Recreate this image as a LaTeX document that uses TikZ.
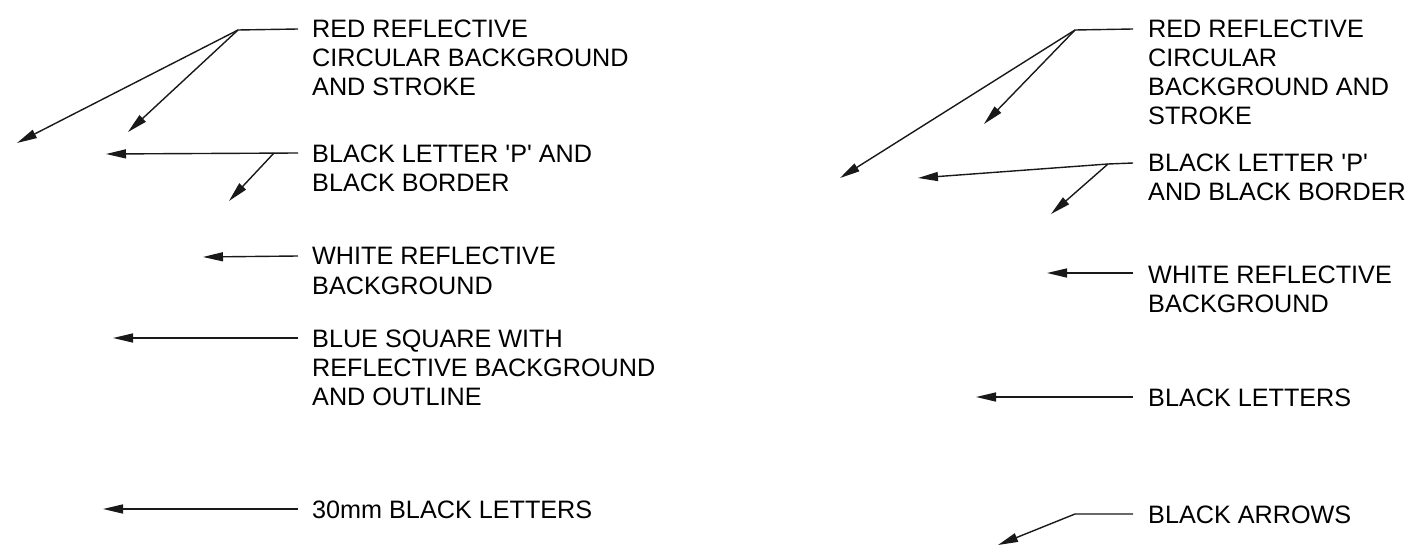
\documentclass[tikz,border=0pt]{standalone}
\usepackage{fontspec}
\newfontfamily\lsans{Liberation Sans}
\usetikzlibrary{arrows.meta}
\begin{document}
\begin{tikzpicture}[x=1pt,y=-1pt,
  lbl/.style={anchor=base west, inner sep=0pt, align=left, font=\lsans\fontsize{25.2pt}{29pt}\selectfont},
  lead/.style={line width=1.4pt, black!90},
  arr/.style={lead, -{Triangle[length=20pt,width=9pt]}}]
\useasboundingbox (0,0) rectangle (1419,556);

% ---------- left column (anchor = baseline of last line) ----------
\node[lbl] (L1) at (312,95.5) {RED REFLECTIVE\\CIRCULAR BACKGROUND\\AND STROKE};
\node[lbl] (L2) at (312,192) {BLACK LETTER 'P' AND\\BLACK BORDER};
\node[lbl] (L3) at (312,294) {WHITE REFLECTIVE\\BACKGROUND};
\node[lbl] (L4) at (312,405) {BLUE SQUARE WITH\\REFLECTIVE BACKGROUND\\AND OUTLINE};
\node[lbl] (L5) at (312,518) {30mm BLACK LETTERS};

\coordinate (a1) at (298,29);  \coordinate (k1) at (238,30);
\coordinate (t1a) at (17,143); \coordinate (t1b) at (128,132);
\coordinate (a2) at (298,153); \coordinate (k2) at (274,153);
\coordinate (t2a) at (106,154); \coordinate (t2b) at (229,201);
\coordinate (a3) at (298,256); \coordinate (t3) at (203,257);
\coordinate (a4) at (298,338); \coordinate (t4) at (113,338);
\coordinate (a5) at (298,509); \coordinate (t5) at (103,509);

\draw[lead] (a1) -- (k1);
\draw[arr] (k1) -- (t1a);
\draw[arr] (k1) -- (t1b);
\draw[arr] (a2) -- (t2a);
\draw[arr] (k2) -- (t2b);
\draw[arr] (a3) -- (t3);
\draw[arr] (a4) -- (t4);
\draw[arr] (a5) -- (t5);

% ---------- right column ----------
\node[lbl] (R1) at (1148,124.5) {RED REFLECTIVE\\CIRCULAR\\BACKGROUND AND\\STROKE};
\node[lbl] (R2) at (1148,201) {BLACK LETTER 'P'\\AND BLACK BORDER};
\node[lbl] (R3) at (1148,312) {WHITE REFLECTIVE\\BACKGROUND};
\node[lbl] (R4) at (1148,406) {BLACK LETTERS};
\node[lbl] (R5) at (1148,523) {BLACK ARROWS};

\coordinate (b1) at (1133,29);  \coordinate (m1) at (1075,30);
\coordinate (u1a) at (840,178); \coordinate (u1b) at (984,124);
\coordinate (b2) at (1133,163); \coordinate (m2) at (1108,164);
\coordinate (u2a) at (918,178); \coordinate (u2b) at (1051,214);
\coordinate (b3) at (1133,273); \coordinate (u3) at (1047,273);
\coordinate (b4) at (1133,397); \coordinate (u4) at (976,397);
\coordinate (b5) at (1133,514); \coordinate (m5) at (1075,514);
\coordinate (u5) at (998,545);

\draw[lead] (b1) -- (m1);
\draw[arr] (m1) -- (u1a);
\draw[arr] (m1) -- (u1b);
\draw[lead] (b2) -- (m2);
\draw[arr] (m2) -- (u2a);
\draw[arr] (m2) -- (u2b);
\draw[arr] (b3) -- (u3);
\draw[arr] (b4) -- (u4);
\draw[arr] (b5) -- (m5) -- (u5);
\end{tikzpicture}
\end{document}
